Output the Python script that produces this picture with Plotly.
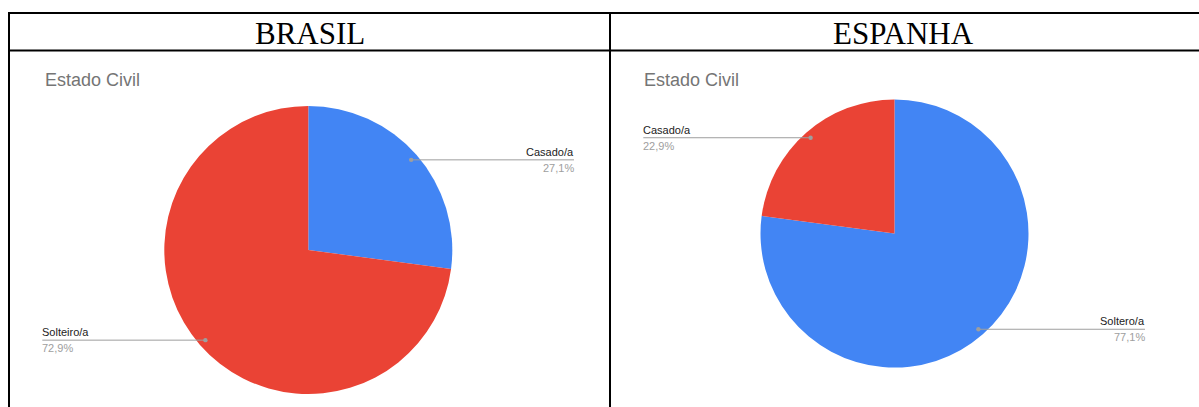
import math
import plotly.graph_objects as go

W, H = 1199, 407

# ---- data ----
panels = ["BRASIL", "ESPANHA"]
chart_title = "Estado Civil"
brasil_labels = ["Casado/a", "Solteiro/a"]
brasil_values = [27.1, 72.9]
espanha_labels = ["Soltero/a", "Casado/a"]
espanha_values = [77.1, 22.9]
brasil_colors = ["#4285F4", "#EA4335"]
espanha_colors = ["#4285F4", "#EA4335"]

def X(px):
    return px / W

def Y(py):
    return 1 - py / H

FONT = "Arial, Liberation Sans, sans-serif"

# panel layout: (center x, center y, radius, label anchors per slice)
geo = [
    dict(cx=308.3, cy=250.0, r=144.0, tx=309.5, title_x=44.5,
         anchors=[("right", 574.0), ("left", 42.3)]),
    dict(cx=894.5, cy=233.5, r=134.0, tx=903.5, title_x=644.0,
         anchors=[("right", 1145.0), ("left", 643.3)]),
]
datasets = [
    (brasil_labels, brasil_values, brasil_colors),
    (espanha_labels, espanha_values, espanha_colors),
]

fig = go.Figure()
shapes = []
annotations = []

for g, (labs, vals, cols), pname in zip(geo, datasets, panels):
    fig.add_trace(go.Pie(
        labels=labs, values=vals, sort=False, direction="clockwise", rotation=0,
        marker=dict(colors=cols, line=dict(width=0)),
        textinfo="none", hoverinfo="label+percent", showlegend=False,
        domain=dict(x=[X(g["cx"] - g["r"]), X(g["cx"] + g["r"])],
                    y=[Y(g["cy"] + g["r"]), Y(g["cy"] - g["r"])]),
    ))
    total = sum(vals)
    cum = 0.0
    for (side, lx), lab, v in zip(g["anchors"], labs, vals):
        mid = (cum + v / 2) / total * 2 * math.pi
        cum += v
        dx = g["cx"] + 0.95 * g["r"] * math.sin(mid)
        dy = g["cy"] - 0.95 * g["r"] * math.cos(mid)
        shapes.append(dict(type="line", xref="paper", yref="paper",
                           x0=X(dx), x1=X(lx), y0=Y(dy), y1=Y(dy),
                           line=dict(color="#9E9E9E", width=1)))
        shapes.append(dict(type="circle", xref="paper", yref="paper",
                           x0=X(dx - 2.2), x1=X(dx + 2.2), y0=Y(dy + 2.2), y1=Y(dy - 2.2),
                           fillcolor="#9E9E9E", line=dict(width=0)))
        pct = f"{v / total * 100:.1f}%".replace(".", ",")
        annotations.append(dict(xref="paper", yref="paper", x=X(lx), y=Y(dy - 8),
                                xanchor=side, yanchor="middle", showarrow=False,
                                text=lab, borderpad=0, borderwidth=0,
                                font=dict(family=FONT, size=11, color="#222222")))
        annotations.append(dict(xref="paper", yref="paper", x=X(lx), y=Y(dy + 8),
                                xanchor=side, yanchor="middle", showarrow=False,
                                text=pct, borderpad=0, borderwidth=0,
                                font=dict(family=FONT, size=11, color="#9E9E9E")))
    # chart title
    annotations.append(dict(xref="paper", yref="paper", x=X(g["title_x"]), y=Y(80),
                            xanchor="left", yanchor="middle", showarrow=False,
                            text=chart_title, borderpad=0, borderwidth=0,
                            font=dict(family=FONT, size=18, color="#757575")))
    # header
    annotations.append(dict(xref="paper", yref="paper", x=X(g["tx"]), y=Y(33),
                            xanchor="center", yanchor="middle", showarrow=False,
                            text=pname, borderpad=0, borderwidth=0,
                            font=dict(family="Times New Roman, Liberation Serif, serif",
                                      size=31, color="#000000")))

# table borders
for (x0, y0, x1, y1) in [(8, 13, W, 13), (8, 50.5, W, 50.5),
                         (9, 12, 9, H), (610, 12, 610, H)]:
    shapes.append(dict(type="line", xref="paper", yref="paper",
                       x0=X(x0), x1=X(x1), y0=Y(y0), y1=Y(y1),
                       line=dict(color="#000000", width=2)))

fig.update_layout(width=W, height=H, margin=dict(l=0, r=0, t=0, b=0),
                  paper_bgcolor="white", plot_bgcolor="white",
                  shapes=shapes, annotations=annotations)

fig.write_html("out.html",
               config={"displayModeBar": False},
               post_script="document.body.style.margin='0';"
                           "document.body.style.overflow='hidden';"
                           "document.documentElement.style.overflow='hidden';")
